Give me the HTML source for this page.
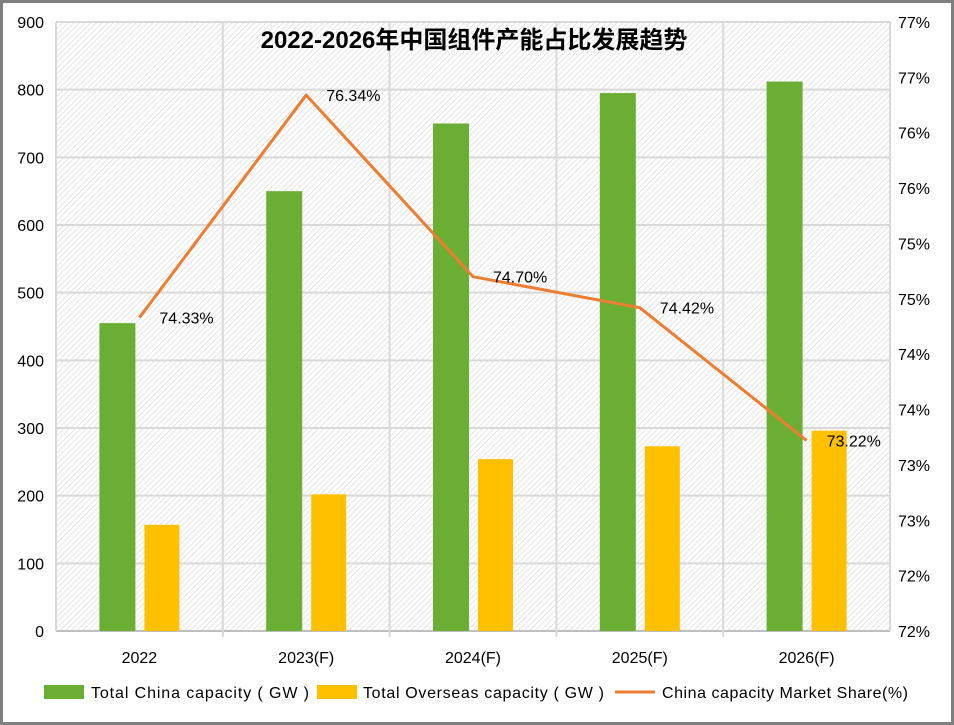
<!DOCTYPE html>
<html><head><meta charset="utf-8"><style>
body{margin:0;background:#fff}
svg{display:block;font-family:"Liberation Sans","Noto Sans CJK SC",sans-serif}
</style></head><body>
<svg id="chart" width="954" height="725" viewBox="0 0 954 725">
<defs>
<pattern id="hatch" width="4" height="4" patternUnits="userSpaceOnUse" patternTransform="rotate(45)">
<rect width="4" height="4" fill="#fff"/>
<line x1="0" y1="0" x2="0" y2="4" stroke="#d4d4d4" stroke-width="1.2"/>
</pattern>
</defs>
<rect x="1.5" y="1.5" width="951" height="722" fill="#fff" stroke="#7f7f7f" stroke-width="3"/>
<rect x="56" y="22" width="834" height="609" fill="url(#hatch)"/>
<g id="grid"></g>
<g id="bars"></g>
<g id="line"></g>
<g id="labels"></g>
<text x="474" y="48" text-anchor="middle" font-size="24" font-weight="bold" fill="#000">2022-2026年中国组件产能占比发展趋势</text>
<g font-size="16" fill="#000">
<rect x="44" y="685" width="40" height="14" fill="#6aaf33"/>
<text x="91" y="698" textLength="218">Total China capacity ( GW )</text>
<rect x="317" y="685" width="40" height="14" fill="#ffc000"/>
<text x="363" y="698" textLength="241">Total Overseas capacity ( GW )</text>
<line x1="615" y1="692" x2="655" y2="692" stroke="#ed7d31" stroke-width="3"/>
<text x="662" y="698" textLength="246">China capacity Market Share(%)</text>
</g>
</svg>
<script>
const categories = ["2022","2023(F)","2024(F)","2025(F)","2026(F)"];
const chinaCap = [455, 650, 750, 795, 812];
const overseasCap = [157, 202, 254, 273, 296];
const share = [74.33, 76.34, 74.70, 74.42, 73.22];
const leftTicks = [0,100,200,300,400,500,600,700,800,900];
const rightTicks = [71.5,72,72.5,73,73.5,74,74.5,75,75.5,76,76.5,77];

const NS="http://www.w3.org/2000/svg";
const X0=56,X1=890,Y0=631,Y1=22;
const catW=(X1-X0)/categories.length;
const yL=v=>Y0-(v/900)*(Y0-Y1);
const yR=v=>Y0-((v-71.5)/5.5)*(Y0-Y1);
const xC=i=>X0+catW*(i+0.5);
function mk(tag,attrs,parent,text){const e=document.createElementNS(NS,tag);for(const k in attrs)e.setAttribute(k,attrs[k]);if(text!==undefined)e.textContent=text;parent.appendChild(e);return e;}
const grid=document.getElementById('grid'),bars=document.getElementById('bars'),line=document.getElementById('line'),labels=document.getElementById('labels');
leftTicks.forEach(t=>{
 const y=yL(t);
 const g=mk('line',{x1:X0,x2:X1,y1:y,y2:y,stroke:t===0?'#bfbfbf':'#d9d9d9','stroke-width':2},grid);
 
 
 const tx=mk('text',{x:44,y:y+6,'text-anchor':'end','font-size':16,fill:'#000'},labels,String(t));
 
 
});
for(let i=0;i<=categories.length;i++){
 const x=X0+catW*i;
 const v=mk('line',{x1:x,x2:x,y1:Y1,y2:Y0+(i===0||i===categories.length?0:6),stroke:'#d9d9d9','stroke-width':2},grid);
 
 
}
rightTicks.forEach(t=>{
 const tx=mk('text',{x:898,y:yR(t)+6,'font-size':16,fill:'#000'},labels,Math.round(t+1e-9)+'%');
 
 
});
categories.forEach((c,i)=>{
 const cx=xC(i);
 const b1=mk('rect',{x:cx-40,y:yL(chinaCap[i]),width:36,height:Y0-yL(chinaCap[i]),fill:'#6aaf33'},bars);
 
 
 const b2=mk('rect',{x:cx+5,y:yL(overseasCap[i]),width:35,height:Y0-yL(overseasCap[i]),fill:'#ffc000'},bars);
 
 
 const tx=mk('text',{x:cx,y:663,'text-anchor':'middle','font-size':16,fill:'#000'},labels,c);
 
 
});
const pts=share.map((v,i)=>xC(i)+','+yR(v)).join(' ');
const pl=mk('polyline',{points:pts,fill:'none',stroke:'#ed7d31','stroke-width':3,'stroke-linejoin':'round'},line);


share.forEach((v,i)=>{
 const tx=mk('text',{x:xC(i)+20,y:yR(v)+6,'font-size':16,fill:'#000'},labels,v.toFixed(2)+'%');
 
 
});
</script>
</body></html>
